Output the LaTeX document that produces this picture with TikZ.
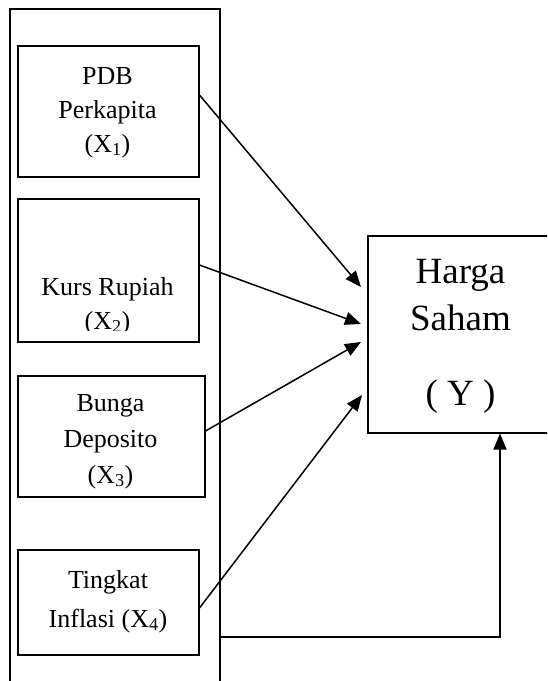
\documentclass[tikz,border=0pt]{standalone}
\usepackage{fontspec}
\setmainfont{Liberation Serif}
\usetikzlibrary{arrows.meta,calc}
\begin{document}
\begin{tikzpicture}[x=1pt,y=-1pt,
  box/.style={draw,line width=1.5pt,rectangle,inner sep=0pt,anchor=north west},
  lbl/.style={anchor=base,inner sep=0pt,font=\fontsize{26}{30}\selectfont},
  ylbl/.style={anchor=base,inner sep=0pt,font=\fontsize{37}{42}\selectfont},
  conn/.style={line width=1.5pt,-{Triangle[length=16pt,width=13pt]}}]
\useasboundingbox (0,0) rectangle (547,681);
\clip (0,0) rectangle (547,681);
% outer frame (open at bottom, beyond page)
\node[box,minimum width=210pt,minimum height=700pt] (frame) at (9,8) {};
% variable boxes
\node[box,minimum width=181pt,minimum height=131pt] (b1) at (17,45) {};
\node[box,minimum width=181pt,minimum height=143pt] (b2) at (17,198) {};
\node[box,minimum width=187pt,minimum height=121pt] (b3) at (17,375) {};
\node[box,minimum width=181pt,minimum height=105pt] (b4) at (17,549) {};
\node[box,minimum width=192pt,minimum height=197pt] (Y) at (367,235) {};
% texts
\node[lbl] (t1a) at (107.5,84) {PDB};
\node[lbl] (t1b) at (107.5,118) {Perkapita};
\node[lbl] (t1c) at (107.5,152) {(X\textsubscript{1})};
\node[lbl] (t2a) at (107.5,295) {Kurs Rupiah};
\begin{scope}
\clip (17,198) rectangle (198,330);
\node[lbl] (t2b) at (107.5,329) {(X\textsubscript{2})};
\end{scope}
\node[lbl] (t3a) at (110.5,411) {Bunga};
\node[lbl] (t3b) at (110.5,447) {Deposito};
\node[lbl] (t3c) at (110.5,483) {(X\textsubscript{3})};
\node[lbl] (t4a) at (108,588) {Tingkat};
\node[lbl] (t4b) at (108,627) {Inflasi (X\textsubscript{4})};
\node[ylbl] (tya) at (460.5,283) {Harga};
\node[ylbl] (tyb) at (460.5,330) {Saham};
\node[ylbl] (tyc) at (460.5,405) {( Y )};
% connectors
\draw[conn] ($(b1.north east)+(0,50)$) -- ($(Y.north west)+(-6,52)$);
\draw[conn] ($(b2.north east)+(0,67)$) -- ($(Y.north west)+(-6,89)$);
\draw[conn] ($(b3.north east)+(0,56)$) -- ($(Y.north west)+(-6,107)$);
\draw[conn] ($(b4.north east)+(0,59)$) -- ($(Y.north west)+(-5,160)$);
\draw[conn] ($(frame.north east)+(0,629)$) -| ($(Y.south west)+(133,0)$);
\end{tikzpicture}
\end{document}
